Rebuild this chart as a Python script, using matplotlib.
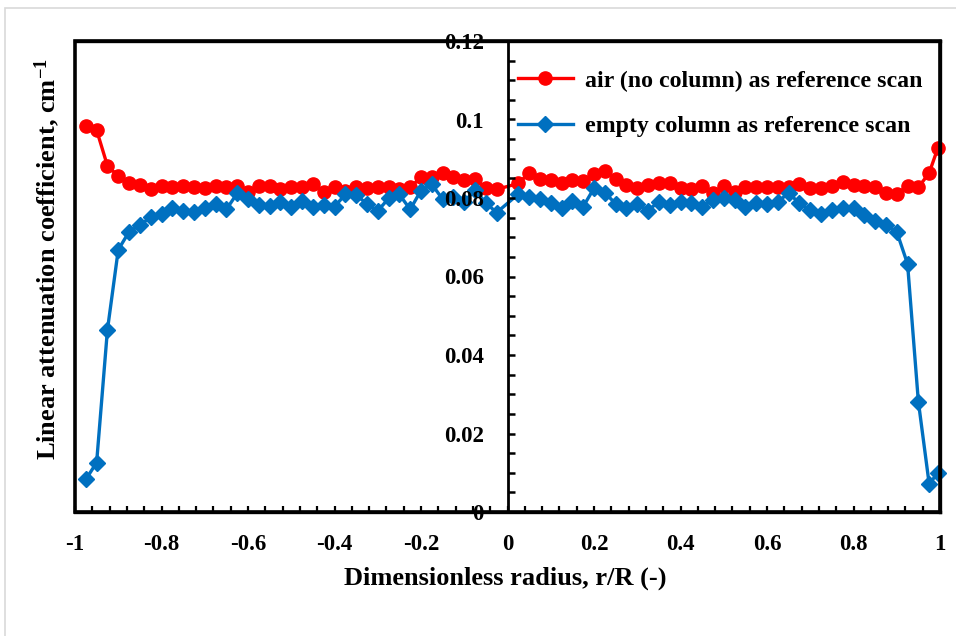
import matplotlib
matplotlib.use("Agg")
import matplotlib.pyplot as plt
from matplotlib.patches import Rectangle
from matplotlib.ticker import FixedLocator, FuncFormatter

plt.rcParams["font.family"] = ["Liberation Serif", "DejaVu Serif"]
plt.rcParams["font.weight"] = "bold"
plt.rcParams["axes.unicode_minus"] = False
plt.rcParams["mathtext.fontset"] = "custom"
plt.rcParams["mathtext.rm"] = "Liberation Serif:bold"
plt.rcParams["mathtext.it"] = "Liberation Serif:bold"
plt.rcParams["mathtext.bf"] = "Liberation Serif:bold"

# radial positions (r/R)
radius = [
    -0.975, -0.95, -0.925, -0.9, -0.875, -0.85, -0.825, -0.8, -0.775, -0.75,
    -0.725, -0.7, -0.675, -0.65, -0.625, -0.6, -0.575, -0.55, -0.525, -0.5,
    -0.475, -0.45, -0.425, -0.4, -0.375, -0.35, -0.325, -0.3, -0.275, -0.25,
    -0.225, -0.2, -0.175, -0.15, -0.125, -0.1, -0.075, -0.05, -0.025,
    0.025, 0.05, 0.075, 0.1, 0.125, 0.15, 0.175, 0.2, 0.225, 0.25,
    0.275, 0.3, 0.325, 0.35, 0.375, 0.4, 0.425, 0.45, 0.475, 0.5,
    0.525, 0.55, 0.575, 0.6, 0.625, 0.65, 0.675, 0.7, 0.725, 0.75,
    0.775, 0.8, 0.825, 0.85, 0.875, 0.9, 0.925, 0.95, 0.975, 0.995,
]

# air (no column) as reference scan
air_ref = [
    0.0983, 0.0973, 0.0882, 0.0856, 0.0839, 0.0833, 0.0822, 0.0831, 0.0827, 0.0831,
    0.0827, 0.0825, 0.0831, 0.0827, 0.0831, 0.0815, 0.0831, 0.0831, 0.0824, 0.0827,
    0.0827, 0.0835, 0.0816, 0.0829, 0.0818, 0.0827, 0.0825, 0.0829, 0.0827, 0.0822,
    0.0827, 0.0853, 0.0853, 0.0864, 0.0853, 0.0846, 0.0848, 0.0825, 0.0822,
    0.0837, 0.0864, 0.0848, 0.0846, 0.0839, 0.0846, 0.0844, 0.0861, 0.0870, 0.0848,
    0.0833, 0.0825, 0.0833, 0.0839, 0.0837, 0.0825, 0.0822, 0.0831, 0.0813, 0.0830,
    0.0816, 0.0827, 0.0827, 0.0827, 0.0827, 0.0827, 0.0836, 0.0825, 0.0825, 0.0831,
    0.0842, 0.0833, 0.0831, 0.0827, 0.0812, 0.0810, 0.0831, 0.0827, 0.0864, 0.0927,
]

# empty column as reference scan
empty_ref = [
    0.0083, 0.0126, 0.0464, 0.0668, 0.0714, 0.0731, 0.0751, 0.0759, 0.0774, 0.0768,
    0.0765, 0.0774, 0.0785, 0.0771, 0.0812, 0.0797, 0.0782, 0.0780, 0.0789, 0.0777,
    0.0793, 0.0777, 0.0782, 0.0778, 0.0809, 0.0808, 0.0785, 0.0767, 0.0799, 0.0809,
    0.0771, 0.0819, 0.0835, 0.0797, 0.0803, 0.0791, 0.0820, 0.0787, 0.0763,
    0.0810, 0.0803, 0.0797, 0.0787, 0.0774, 0.0793, 0.0778, 0.0825, 0.0814, 0.0785,
    0.0774, 0.0785, 0.0768, 0.0791, 0.0782, 0.0791, 0.0787, 0.0778, 0.0795, 0.0801,
    0.0795, 0.0776, 0.0788, 0.0785, 0.0791, 0.0812, 0.0787, 0.0769, 0.0759, 0.0769,
    0.0774, 0.0774, 0.0757, 0.0742, 0.0731, 0.0714, 0.0632, 0.0281, 0.0071, 0.0100,
]

x_major = [-1, -0.8, -0.6, -0.4, -0.2, 0, 0.2, 0.4, 0.6, 0.8, 1]
y_major = [0, 0.02, 0.04, 0.06, 0.08, 0.1, 0.12]

W, H = 956, 636
fig = plt.figure(figsize=(W / 100, H / 100), dpi=100)
fig.patches.append(Rectangle((5 / W, -0.05), 1.1, 1.05 - 8 / H, transform=fig.transFigure,
                             fill=False, edgecolor="#d9d9d9", linewidth=1.2))

ax = fig.add_axes([75 / W, 1 - 512 / H, 865 / W, 471 / H])
ax.set_xlim(-1, 1)
ax.set_ylim(0, 0.12)

ax.plot(radius, air_ref, color="#ff0000", linewidth=2.4, marker="o", markersize=9.5,
        label="air (no column) as reference scan", clip_on=False)
ax.plot(radius, empty_ref, color="#0070c0", linewidth=2.4, marker="D", markersize=8,
        label="empty column as reference scan", clip_on=False)

# y axis crosses at r/R = 0, framed box around the plot area
ax.spines["left"].set_position(("data", 0))
ax.spines["left"].set_linewidth(2.0)
for side in ["top", "right", "bottom"]:
    ax.spines[side].set_linewidth(2.4)
ax.add_patch(Rectangle((0, 0), 1, 1, transform=ax.transAxes, fill=False,
                       edgecolor="black", linewidth=2.6, clip_on=False, zorder=3))
ax.set_axisbelow(False)

fmt = FuncFormatter(lambda v, pos: "%g" % round(v, 3))
ax.xaxis.set_major_locator(FixedLocator(x_major))
ax.xaxis.set_minor_locator(FixedLocator([-1 + 0.04 * i for i in range(51)]))
ax.yaxis.set_major_locator(FixedLocator(y_major))
ax.yaxis.set_minor_locator(FixedLocator([0.005 * i for i in range(25)]))
ax.xaxis.set_major_formatter(fmt)
ax.yaxis.set_major_formatter(fmt)
ax.tick_params(axis="x", which="both", direction="in", length=4, width=1.6,
               labelsize=16.5, pad=16)
ax.tick_params(axis="y", which="both", direction="in", length=5, width=1.8,
               labelsize=16.5, pad=17)
ax.tick_params(top=False, right=False)

fig.text(47 / W, 1 - 259 / H, "Linear attenuation coefficient, cm$^{-1}$",
         rotation=90, ha="center", va="center", fontsize=19, fontweight="bold")
fig.text(505 / W, 1 - 578 / H, "Dimensionless radius, r/R (-)",
         ha="center", va="center", fontsize=19, fontweight="bold")

ax.legend(loc="upper left", bbox_to_anchor=(518 / W, 1 - 70 / H),
          bbox_transform=fig.transFigure, frameon=False, fontsize=17.2,
          handlelength=2.3, handletextpad=0.5, labelspacing=1.0, borderpad=0,
          borderaxespad=0)

fig.savefig("out.png", dpi=100)
